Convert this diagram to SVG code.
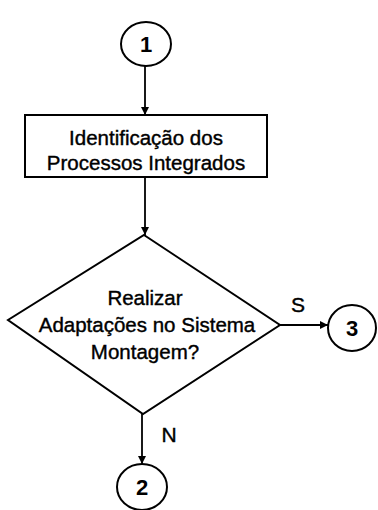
<svg xmlns="http://www.w3.org/2000/svg" width="378" height="510" viewBox="0 0 378 510">
<defs>
<marker id="arr" viewBox="0 0 10 10" refX="10" refY="5" markerWidth="10" markerHeight="8" markerUnits="userSpaceOnUse" orient="auto">
<path d="M0,0 L10,5 L0,10 Z" fill="#000"/>
</marker>
</defs>
<style>
.shape{fill:#fff;stroke:#000;stroke-width:2}
.edge{fill:none;stroke:#000;stroke-width:1.8;marker-end:url(#arr)}
.t{font-family:"Liberation Sans",Arial,sans-serif;font-size:20.5px;fill:#000;stroke:#000;stroke-width:0.4;text-anchor:middle}
.n{font-family:"Liberation Sans",Arial,sans-serif;font-size:22px;font-weight:bold;fill:#000;text-anchor:middle}
</style>
<rect width="378" height="510" fill="#fff"/>
<g id="connectors">
<line class="edge" x1="145" y1="66" x2="145" y2="115"/>
<line class="edge" x1="145" y1="177" x2="145" y2="235"/>
<line class="edge" x1="280" y1="325" x2="328" y2="325"/>
<line class="edge" x1="142" y1="414" x2="142" y2="464"/>
<text class="t" x="298" y="312" style="font-size:21px">S</text>
<text class="t" x="169" y="442" style="font-size:21px">N</text>
</g>
<g id="c1">
<ellipse class="shape" cx="146" cy="44" rx="25" ry="22"/>
<text class="n" x="146" y="52">1</text>
</g>
<g id="box">
<rect class="shape" x="25" y="115" width="242" height="62"/>
<text class="t" x="146" y="145">Identificação dos</text>
<text class="t" x="146" y="170">Processos Integrados</text>
</g>
<g id="decision">
<polygon class="shape" points="144,235 280,325 143,414 8,320"/>
<text class="t" x="145" y="305">Realizar</text>
<text class="t" x="147" y="332">Adaptações no Sistema</text>
<text class="t" x="145" y="359">Montagem?</text>
</g>
<g id="c3">
<ellipse class="shape" cx="352" cy="328" rx="24" ry="23"/>
<text class="n" x="352" y="336">3</text>
</g>
<g id="c2">
<ellipse class="shape" cx="142" cy="487" rx="25" ry="23"/>
<text class="n" x="142" y="495">2</text>
</g>
</svg>
